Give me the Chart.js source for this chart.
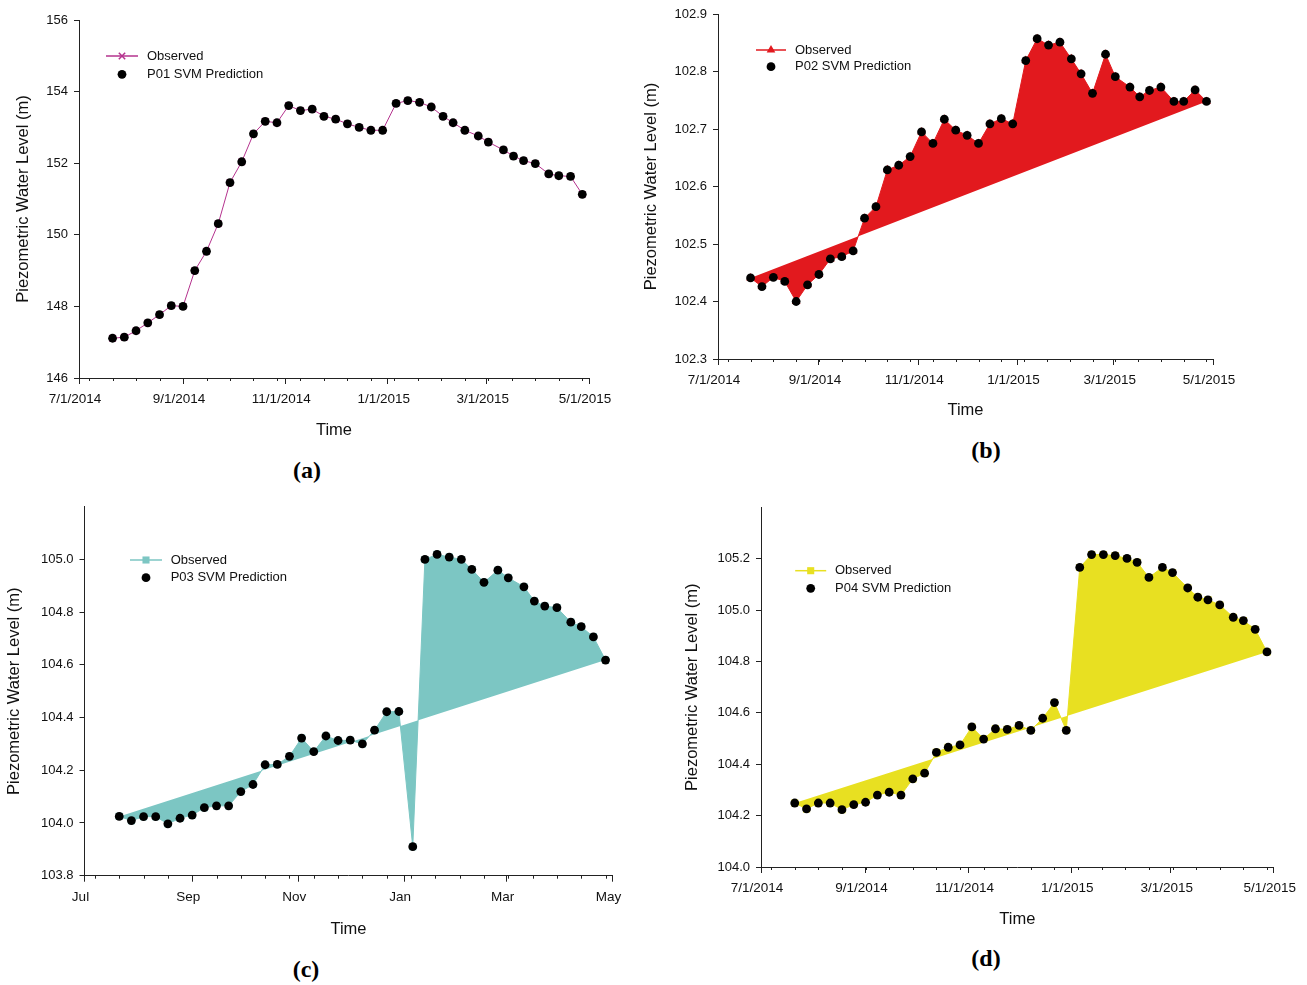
<!DOCTYPE html>
<html lang="en">
<head>
<meta charset="UTF-8">
<title>Piezometric Water Level - SVM Prediction</title>
<script src="https://cdn.jsdelivr.net/npm/chart.js"></script>
<style>
  body { margin: 0; background: #fff; }
  #figure { position: relative; width: 1307px; height: 985px; }
  #figure canvas { position: absolute; }
  .panel-label {
    position: absolute;
    font: bold 24px 'Liberation Serif', 'Times New Roman', serif;
    color: #000;
    transform: translate(-50%, -50%);
  }
</style>
</head>
<body>
<div id="figure">
  <canvas id="chartA" width="640" height="445" style="left:0;top:0"></canvas>
  <canvas id="chartB" width="677" height="425" style="left:630px;top:0"></canvas>
  <canvas id="chartC" width="640" height="450" style="left:0;top:490px"></canvas>
  <canvas id="chartD" width="667" height="440" style="left:640px;top:490px"></canvas>
  <div class="panel-label" style="left:307px;top:470px">(a)</div>
  <div class="panel-label" style="left:986px;top:450px">(b)</div>
  <div class="panel-label" style="left:306px;top:969px">(c)</div>
  <div class="panel-label" style="left:986px;top:958px">(d)</div>
</div>
<script>
// weekly sampling dates, shared by the four piezometers
const sampleDates = [
  '2014-07-21', '2014-07-28', '2014-08-04', '2014-08-11', '2014-08-18', '2014-08-25',
  '2014-09-01', '2014-09-08', '2014-09-15', '2014-09-22', '2014-09-29', '2014-10-06',
  '2014-10-13', '2014-10-20', '2014-10-27', '2014-11-03', '2014-11-10', '2014-11-17',
  '2014-11-24', '2014-12-01', '2014-12-08', '2014-12-15', '2014-12-22', '2014-12-29',
  '2015-01-06', '2015-01-13', '2015-01-20', '2015-01-27', '2015-02-03', '2015-02-09',
  '2015-02-16', '2015-02-24', '2015-03-02', '2015-03-11', '2015-03-17', '2015-03-23',
  '2015-03-30', '2015-04-07', '2015-04-13', '2015-04-20', '2015-04-27'
];

const p01Observed = [
  147.11, 147.14, 147.32, 147.54, 147.77, 148.02, 148.00, 149.00, 149.54, 150.31, 151.46,
  152.04, 152.82, 153.17, 153.13, 153.61, 153.47, 153.51, 153.31, 153.23, 153.10, 153.00,
  152.92, 152.92, 153.67, 153.75, 153.70, 153.57, 153.31, 153.13, 152.92, 152.76, 152.59,
  152.37, 152.20, 152.07, 151.99, 151.70, 151.65, 151.63, 151.13
];
const p01Predicted = [
  147.11, 147.14, 147.32, 147.54, 147.77, 148.02, 148.00, 149.00, 149.54, 150.31, 151.46,
  152.04, 152.82, 153.17, 153.13, 153.61, 153.47, 153.51, 153.31, 153.23, 153.10, 153.00,
  152.92, 152.92, 153.67, 153.75, 153.70, 153.57, 153.31, 153.13, 152.92, 152.76, 152.59,
  152.37, 152.20, 152.07, 151.99, 151.70, 151.65, 151.63, 151.13
];

const p02Observed = [
  102.441, 102.426, 102.442, 102.435, 102.400, 102.429, 102.447, 102.474, 102.478, 102.488,
  102.545, 102.565, 102.629, 102.637, 102.652, 102.695, 102.675, 102.717, 102.698, 102.689,
  102.675, 102.709, 102.718, 102.709, 102.819, 102.857, 102.846, 102.851, 102.822, 102.796,
  102.762, 102.830, 102.791, 102.773, 102.756, 102.767, 102.773, 102.748, 102.748, 102.768,
  102.748
];
const p02Predicted = [
  102.441, 102.426, 102.442, 102.435, 102.400, 102.429, 102.447, 102.474, 102.478, 102.488,
  102.545, 102.565, 102.629, 102.637, 102.652, 102.695, 102.675, 102.717, 102.698, 102.689,
  102.675, 102.709, 102.718, 102.709, 102.819, 102.857, 102.846, 102.851, 102.822, 102.796,
  102.762, 102.830, 102.791, 102.773, 102.756, 102.767, 102.773, 102.748, 102.748, 102.768,
  102.748
];

const p03Observed = [
  104.025, 104.009, 104.024, 104.024, 103.997, 104.018, 104.030, 104.058, 104.065, 104.065,
  104.119, 104.146, 104.221, 104.222, 104.253, 104.322, 104.271, 104.330, 104.313, 104.314,
  104.300, 104.352, 104.422, 104.423, 103.910, 105.000, 105.019, 105.009, 105.000, 104.962,
  104.913, 104.959, 104.930, 104.896, 104.842, 104.823, 104.817, 104.762, 104.745, 104.706,
  104.618
];
const p03Predicted = [
  104.025, 104.009, 104.024, 104.024, 103.997, 104.018, 104.030, 104.058, 104.065, 104.065,
  104.119, 104.146, 104.221, 104.222, 104.253, 104.322, 104.271, 104.330, 104.313, 104.314,
  104.300, 104.352, 104.422, 104.423, 103.910, 105.000, 105.019, 105.009, 105.000, 104.962,
  104.913, 104.959, 104.930, 104.896, 104.842, 104.823, 104.817, 104.762, 104.745, 104.706,
  104.618
];

const p04Observed = [
  104.249, 104.226, 104.249, 104.249, 104.223, 104.243, 104.252, 104.280, 104.291, 104.280,
  104.343, 104.365, 104.446, 104.466, 104.475, 104.545, 104.498, 104.538, 104.536, 104.551,
  104.532, 104.579, 104.640, 104.532, 105.166, 105.216, 105.216, 105.212, 105.201, 105.186,
  105.127, 105.166, 105.146, 105.086, 105.050, 105.040, 105.020, 104.972, 104.959, 104.925,
  104.837
];
const p04Predicted = [
  104.249, 104.226, 104.249, 104.249, 104.223, 104.243, 104.252, 104.280, 104.291, 104.280,
  104.343, 104.365, 104.446, 104.466, 104.475, 104.545, 104.498, 104.538, 104.536, 104.551,
  104.532, 104.579, 104.640, 104.532, 105.166, 105.216, 105.216, 105.212, 105.201, 105.186,
  105.127, 105.166, 105.146, 105.086, 105.050, 105.040, 105.020, 104.972, 104.959, 104.925,
  104.837
];

// x axis: labelled ticks every two months, small ticks every two weeks
const monthTicks = ['2014-07-01', '2014-09-01', '2014-11-01', '2015-01-01', '2015-03-01', '2015-05-01'];
const dateTickLabels = ['7/1/2014', '9/1/2014', '11/1/2014', '1/1/2015', '3/1/2015', '5/1/2015'];
const monthTickLabels = ['Jul', 'Sep', 'Nov', 'Jan', 'Mar', 'May'];
const minorTickStart = '2014-07-07';

const p01Ticks = [146, 148, 150, 152, 154, 156];
const p02Ticks = [102.3, 102.4, 102.5, 102.6, 102.7, 102.8, 102.9];
const p03Ticks = [103.8, 104.0, 104.2, 104.4, 104.6, 104.8, 105.0];
const p04Ticks = [104.0, 104.2, 104.4, 104.6, 104.8, 105.0, 105.2];

// ---------------------------------------------------------------

const FONT = "'Liberation Sans', Arial, sans-serif";
Chart.defaults.font.family = FONT;
Chart.defaults.color = '#111';

const dayNum = s => Date.UTC(+s.slice(0, 4), +s.slice(5, 7) - 1, +s.slice(8, 10)) / 86400000;
const majorDays = monthTicks.map(dayNum);
const minorDays = [];
for (let d = dayNum(minorTickStart); d <= majorDays[majorDays.length - 1]; d += 14) minorDays.push(d);

const points = vals => sampleDates.map((d, i) => ({ x: dayNum(d), y: vals[i] }));

// short biweekly tick marks under the x axis
const minorTicks = {
  id: 'minorTicks',
  afterDraw(chart) {
    const { ctx } = chart;
    const xs = chart.scales.x;
    ctx.save();
    ctx.strokeStyle = '#222';
    ctx.lineWidth = 1;
    ctx.beginPath();
    minorDays.forEach(d => {
      const px = Math.round(xs.getPixelForValue(d)) + 0.5;
      ctx.moveTo(px, xs.top);
      ctx.lineTo(px, xs.top + 3);
    });
    ctx.stroke();
    ctx.restore();
  }
};

// legend box sitting inside the plot area, line + marker like the series
const insetLegend = {
  id: 'insetLegend',
  afterDraw(chart, args, opts) {
    const { ctx, chartArea } = chart;
    const x0 = chartArea.left + opts.x;
    ctx.save();
    ctx.font = '13px ' + FONT;
    ctx.textBaseline = 'middle';
    chart.data.datasets.forEach((ds, i) => {
      const y = chartArea.top + opts.y + i * opts.gap;
      if (ds.showLine !== false) {
        ctx.strokeStyle = ds.borderColor;
        ctx.lineWidth = 1.5;
        ctx.beginPath();
        ctx.moveTo(x0 - opts.half, y);
        ctx.lineTo(x0 + opts.half, y);
        ctx.stroke();
      }
      ctx.fillStyle = ds.pointBackgroundColor;
      ctx.strokeStyle = ds.pointBorderColor;
      ctx.lineWidth = ds.pointBorderWidth;
      Chart.helpers.drawPoint(ctx, {
        pointStyle: ds.pointStyle, radius: ds.pointRadius,
        borderWidth: ds.pointBorderWidth, rotation: 0
      }, x0, y);
      ctx.fillStyle = '#111';
      ctx.fillText(ds.label, x0 + opts.text, y);
    });
    ctx.restore();
  }
};

function makeChart(id, cfg) {
  const canvas = document.getElementById(id);
  const W = canvas.width, H = canvas.height;
  const box = cfg.box;
  const titleHalf = 16.5 * 1.2 / 2;

  return new Chart(canvas, {
    type: 'line',
    data: {
      datasets: [
        {
          label: 'Observed',
          data: points(cfg.observed),
          borderColor: cfg.color,
          backgroundColor: cfg.color,
          borderWidth: 1,
          tension: 0,
          fill: cfg.fill,
          pointStyle: cfg.pointStyle,
          pointRadius: cfg.pointRadius,
          pointBackgroundColor: cfg.color,
          pointBorderColor: cfg.color,
          pointBorderWidth: cfg.pointStyle === 'crossRot' ? 1.5 : 0,
          order: 1
        },
        {
          label: cfg.predLabel,
          data: points(cfg.predicted),
          showLine: false,
          pointStyle: 'circle',
          pointRadius: 4.4,
          pointBackgroundColor: '#000',
          pointBorderColor: '#000',
          pointBorderWidth: 0,
          order: 0
        }
      ]
    },
    options: {
      responsive: false,
      animation: false,
      events: [],
      layout: { padding: { left: 0, top: box.top, right: W - box.right, bottom: 0 } },
      plugins: {
        legend: { display: false },
        tooltip: { enabled: false },
        insetLegend: cfg.legend
      },
      scales: {
        x: {
          type: 'linear',
          min: majorDays[0],
          max: majorDays[majorDays.length - 1],
          afterBuildTicks: s => { s.ticks = majorDays.map(v => ({ value: v })); },
          afterFit: s => { s.height = H - box.bottom; },
          ticks: {
            autoSkip: false,
            maxRotation: 0,
            labelOffset: -4,
            padding: 7,
            font: { size: 13.5 },
            callback: (v, i) => cfg.xLabels[i]
          },
          grid: { drawOnChartArea: false, tickLength: 6, color: '#222' },
          border: { color: '#222', width: 1 },
          title: {
            display: true, text: 'Time', font: { size: 16.5 },
            padding: { top: 0, bottom: H - titleHalf - box.timeY }
          }
        },
        y: {
          min: cfg.yMin,
          max: cfg.yMax,
          afterBuildTicks: s => { s.ticks = cfg.yTicks.map(v => ({ value: v })); },
          afterFit: s => { s.width = box.left; },
          ticks: {
            padding: 6,
            font: { size: 13 },
            callback: v => v.toFixed(cfg.decimals)
          },
          grid: { drawOnChartArea: false, tickLength: 5, color: '#222' },
          border: { color: '#222', width: 1 },
          title: {
            display: true, text: 'Piezometric Water Level (m)', font: { size: 16.5 },
            padding: { top: box.yTitleX - titleHalf, bottom: 0 }
          }
        }
      }
    },
    plugins: [minorTicks, insetLegend]
  });
}

makeChart('chartA', {
  observed: p01Observed, predicted: p01Predicted, predLabel: 'P01 SVM Prediction',
  color: '#B5338E', fill: false, pointStyle: 'crossRot', pointRadius: 4.5,
  yMin: 146, yMax: 156, yTicks: p01Ticks, decimals: 0, xLabels: dateTickLabels,
  box: { left: 79, right: 589, top: 20, bottom: 378, yTitleX: 23, timeY: 430 },
  legend: { x: 43, y: 36, gap: 18.3, half: 16, text: 25 }
});

makeChart('chartB', {
  observed: p02Observed, predicted: p02Predicted, predLabel: 'P02 SVM Prediction',
  color: '#E2191E', fill: 'shape', pointStyle: 'triangle', pointRadius: 5,
  yMin: 102.3, yMax: 102.9, yTicks: p02Ticks, decimals: 1, xLabels: dateTickLabels,
  box: { left: 88, right: 583, top: 14, bottom: 359, yTitleX: 21, timeY: 410 },
  legend: { x: 53, y: 36, gap: 16.7, half: 15, text: 24 }
});

makeChart('chartC', {
  observed: p03Observed, predicted: p03Predicted, predLabel: 'P03 SVM Prediction',
  color: '#7CC6C3', fill: 'shape', pointStyle: 'rect', pointRadius: 5,
  yMin: 103.8, yMax: 105.2, yTicks: p03Ticks, decimals: 1, xLabels: monthTickLabels,
  box: { left: 84.5, right: 612.5, top: 16.7, bottom: 385.7, yTitleX: 14.5, timeY: 439 },
  legend: { x: 61.5, y: 53.3, gap: 17.7, half: 16, text: 24.7 }
});

makeChart('chartD', {
  observed: p04Observed, predicted: p04Predicted, predLabel: 'P04 SVM Prediction',
  color: '#E8E021', fill: 'shape', pointStyle: 'rect', pointRadius: 5,
  yMin: 104.0, yMax: 105.4, yTicks: p04Ticks, decimals: 1, xLabels: dateTickLabels,
  box: { left: 121, right: 635, top: 17.3, bottom: 377, yTitleX: 52.5, timeY: 429 },
  legend: { x: 49.7, y: 63.4, gap: 17.6, half: 15.5, text: 24.3 }
});
</script>
</body>
</html>
